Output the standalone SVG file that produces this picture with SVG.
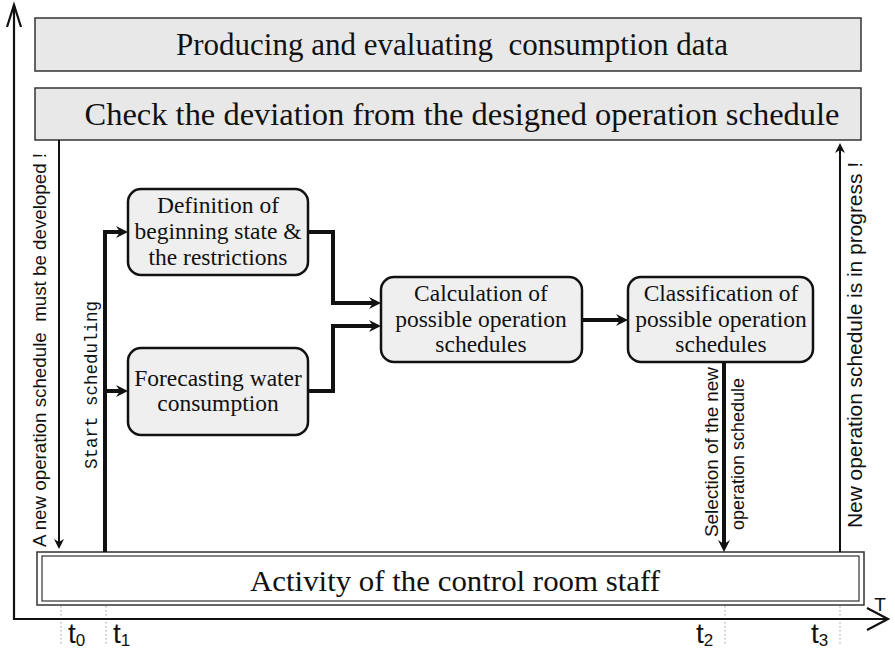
<svg xmlns="http://www.w3.org/2000/svg" width="895" height="649" viewBox="0 0 895 649">
<defs>
<style>
.serif{font-family:"Liberation Serif","Times New Roman",serif;fill:#111}
.sans{font-family:"Liberation Sans",Arial,sans-serif;fill:#111}
.mono{font-family:"Liberation Mono","Courier New",monospace;fill:#111}
.band{fill:#e8e8e8;stroke:#333;stroke-width:1.5}
.box{fill:#efefef;stroke:#111;stroke-width:2.5}
.thick{fill:none;stroke:#111;stroke-width:4}
.thin{fill:none;stroke:#111;stroke-width:2}
.axis{fill:none;stroke:#111;stroke-width:2.2}
.tick{stroke:#999;stroke-width:1;stroke-dasharray:1.5 2.5}
.bt{font-size:23.5px;text-anchor:middle}
</style>
<marker id="ah" viewBox="0 0 12 12" refX="8" refY="6" markerWidth="12" markerHeight="12" markerUnits="userSpaceOnUse" orient="auto">
<path d="M0,0 L12,6 L0,12 L4,6 z" fill="#111"/>
</marker>
<marker id="ahs" viewBox="0 0 10 10" refX="7" refY="5" markerWidth="10" markerHeight="11" markerUnits="userSpaceOnUse" orient="auto">
<path d="M0,0 L10,5 L0,10 L3,5 z" fill="#111"/>
</marker>
</defs>

<g id="axes">
<line class="tick" x1="61" y1="606" x2="61" y2="646"/>
<line class="tick" x1="106" y1="606" x2="106" y2="646"/>
<line class="tick" x1="725" y1="606" x2="725" y2="646"/>
<line class="tick" x1="840" y1="606" x2="840" y2="646"/>
<path class="axis" d="M14,5 V619 H888"/>
<path class="axis" d="M7,27 L14,5 L21,27"/>
<path class="axis" d="M867,608 L888,619 L867,630"/>
<text class="sans" x="880" y="611" font-size="19" text-anchor="middle">T</text>
<text class="sans" x="68" y="643" font-size="28">t<tspan font-size="17" dy="3">0</tspan></text>
<text class="sans" x="113" y="643" font-size="28">t<tspan font-size="17" dy="3">1</tspan></text>
<text class="sans" x="696" y="643" font-size="28">t<tspan font-size="17" dy="3">2</tspan></text>
<text class="sans" x="811" y="643" font-size="28">t<tspan font-size="17" dy="3">3</tspan></text>
</g>

<g id="band-producing">
<rect class="band" x="35" y="18" width="826" height="53"/>
<text class="serif" x="452" y="55" font-size="32" text-anchor="middle" textLength="552" lengthAdjust="spacingAndGlyphs" style="white-space:pre">Producing and evaluating  consumption data</text>
</g>

<g id="band-check">
<rect class="band" x="35" y="88" width="826" height="52"/>
<text class="serif" x="462" y="125" font-size="31" text-anchor="middle" textLength="755" lengthAdjust="spacingAndGlyphs">Check the deviation from the designed operation schedule</text>
</g>

<g id="activity">
<rect x="37" y="552" width="827" height="53" fill="#fff" stroke="#333" stroke-width="1.5"/>
<rect x="42" y="556" width="817" height="45" fill="none" stroke="#333" stroke-width="1.2"/>
<text class="serif" x="455" y="591" font-size="30" text-anchor="middle" textLength="410" lengthAdjust="spacingAndGlyphs">Activity of the control room staff</text>
</g>

<g id="definition">
<rect class="box" x="128" y="189" width="180" height="86" rx="13"/>
<text class="serif bt" x="218" y="213">Definition of</text>
<text class="serif bt" x="218" y="239">beginning state &amp;</text>
<text class="serif bt" x="218" y="265">the restrictions</text>
</g>

<g id="forecasting">
<rect class="box" x="128" y="348" width="180" height="87" rx="13"/>
<text class="serif bt" x="218" y="386">Forecasting water</text>
<text class="serif bt" x="218" y="411">consumption</text>
</g>

<g id="calculation">
<rect class="box" x="381" y="277" width="201" height="85" rx="13"/>
<text class="serif bt" x="481" y="301">Calculation of</text>
<text class="serif bt" x="481" y="327">possible operation</text>
<text class="serif bt" x="481" y="352">schedules</text>
</g>

<g id="classification">
<rect class="box" x="628" y="277" width="185" height="85" rx="13"/>
<text class="serif bt" x="721" y="301">Classification of</text>
<text class="serif bt" x="721" y="327">possible operation</text>
<text class="serif bt" x="721" y="352">schedules</text>
</g>

<g id="connectors">
<path class="thin" d="M59,140 V546" marker-end="url(#ahs)"/>
<path class="thin" d="M840,552 V146" marker-end="url(#ahs)"/>
<path class="thick" d="M105,552 V232 H124" marker-end="url(#ah)"/>
<path class="thick" d="M105,391 H124" marker-end="url(#ah)"/>
<path class="thick" d="M308,232 H333 V303 H377" marker-end="url(#ah)"/>
<path class="thick" d="M308,391 H333 V326 H377" marker-end="url(#ah)"/>
<path class="thick" d="M583,320 H624" marker-end="url(#ah)"/>
<path class="thick" d="M724,362 V548" marker-end="url(#ah)"/>
</g>

<g id="labels">
<text class="sans" transform="translate(46,350) rotate(-90)" font-size="19" text-anchor="middle" textLength="394" lengthAdjust="spacingAndGlyphs" style="white-space:pre">A new operation schedule  must be developed !</text>
<text class="sans" transform="translate(862,345) rotate(-90)" font-size="21" text-anchor="middle" textLength="366" lengthAdjust="spacingAndGlyphs">New operation schedule is in progress !</text>
<text class="mono" transform="translate(97,385) rotate(-90)" font-size="18" text-anchor="middle" textLength="168" lengthAdjust="spacingAndGlyphs">Start scheduling</text>
<text class="sans" transform="translate(718,452) rotate(-90)" font-size="18" text-anchor="middle" textLength="170" lengthAdjust="spacingAndGlyphs">Selection of the new</text>
<text class="sans" transform="translate(744,454) rotate(-90)" font-size="18" text-anchor="middle" textLength="152" lengthAdjust="spacingAndGlyphs">operation schedule</text>
</g>
</svg>
